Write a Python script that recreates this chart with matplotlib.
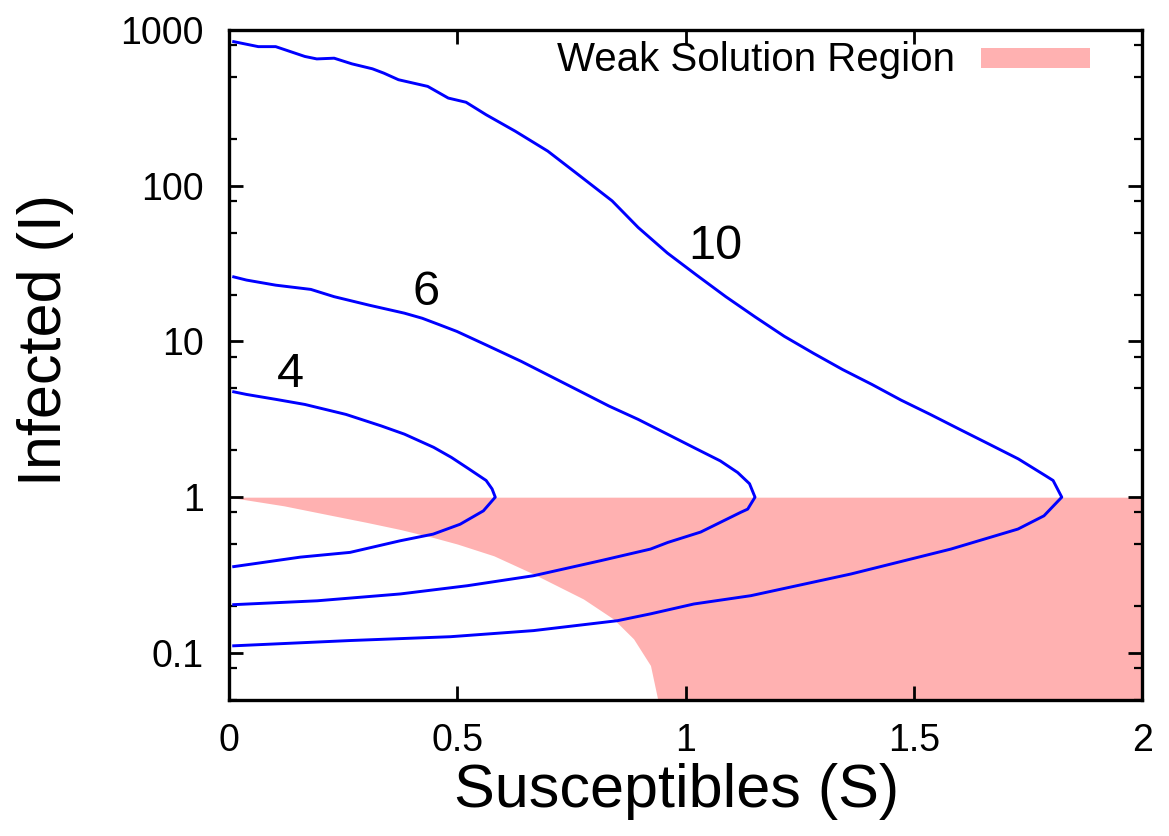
import numpy as np
import matplotlib
matplotlib.use("Agg")
import matplotlib.pyplot as plt
from matplotlib.ticker import FixedLocator, NullFormatter
from matplotlib.patches import Rectangle

plt.rcParams['font.family'] = ['Liberation Sans', 'DejaVu Sans']

# ---- data ----
# curve labelled 4
s4_upper = [0.01, 0.038, 0.102, 0.166, 0.256, 0.333, 0.384, 0.448, 0.487, 0.525, 0.563, 0.576, 0.583]
i4_upper = [4.75, 4.57, 4.25, 3.94, 3.40, 2.87, 2.54, 2.09, 1.80, 1.52, 1.28, 1.13, 1.0]
s4_lower = [0.583, 0.557, 0.506, 0.447, 0.375, 0.265, 0.156, 0.01]
i4_lower = [1.0, 0.817, 0.67, 0.579, 0.525, 0.442, 0.412, 0.358]

# curve labelled 6
s6_upper = [0.01, 0.038, 0.102, 0.179, 0.230, 0.307, 0.384, 0.423, 0.461, 0.499, 0.563, 0.640,
            0.704, 0.768, 0.832, 0.896, 0.960, 1.024, 1.076, 1.114, 1.140, 1.152]
i6_upper = [26.0, 24.8, 23.0, 21.6, 19.4, 17.1, 15.2, 14.1, 12.8, 11.6, 9.5, 7.45,
            5.98, 4.80, 3.85, 3.16, 2.54, 2.04, 1.71, 1.44, 1.22, 1.0]
s6_lower = [1.152, 1.136, 1.121, 1.033, 0.961, 0.923, 0.814, 0.667, 0.522, 0.375, 0.193, 0.01]
i6_lower = [1.0, 0.838, 0.80, 0.597, 0.512, 0.464, 0.391, 0.313, 0.27, 0.239, 0.216, 0.204]

# curve labelled 10
s10_upper = [0.01, 0.064, 0.102, 0.166, 0.192, 0.230, 0.269, 0.314, 0.339, 0.371, 0.435, 0.480,
             0.519, 0.563, 0.627, 0.698, 0.768, 0.839, 0.896, 0.960, 1.024, 1.088, 1.152, 1.216,
             1.280, 1.344, 1.408, 1.472, 1.536, 1.600, 1.665, 1.729, 1.789, 1.805, 1.824]
i10_upper = [843, 783, 783, 677, 653, 660, 607, 564, 529, 480, 435, 366,
             344, 286, 224, 167, 116, 80, 54, 37, 26.7, 19.4, 14.4, 10.8,
             8.4, 6.6, 5.3, 4.2, 3.4, 2.73, 2.19, 1.76, 1.37, 1.28, 1.0]
s10_lower = [1.824, 1.785, 1.728, 1.581, 1.362, 1.143, 1.018, 0.923, 0.851, 0.667, 0.485, 0.265, 0.01]
i10_lower = [1.0, 0.759, 0.624, 0.464, 0.321, 0.233, 0.206, 0.178, 0.161, 0.139, 0.127, 0.120, 0.111]

# weak-solution region boundary (lower edge), top edge is I = 1
region_s = [0.0, 0.12, 0.228, 0.30, 0.375, 0.447, 0.50, 0.58, 0.667, 0.776, 0.842, 0.886, 0.923, 0.939, 2.0]
region_i = [1.0, 0.88, 0.76, 0.69, 0.62, 0.551, 0.50, 0.42, 0.321, 0.222, 0.165, 0.123, 0.083, 0.05, 0.05]

curve_labels = ["4", "6", "10"]
label_pos_s = [0.134, 0.432, 1.066]
label_pos_i = [6.1, 20.6, 41.0]

xticks = [0, 0.5, 1, 1.5, 2]
xticklabels = ["0", "0.5", "1", "1.5", "2"]
yticks = [0.1, 1, 10, 100, 1000]
yticklabels = ["0.1", "1", "10", "100", "1000"]
yminor = [m * 10.0 ** e for e in range(-2, 3) for m in (2, 5, 8)]

legend_text = "Weak Solution Region"

# ---- figure ----
fig = plt.figure(figsize=(11.69, 8.36), dpi=100)
ax = fig.add_axes([0.196, 0.163, 0.781, 0.801])

pink = "#ffb1b1"
blue = "#0000ff"

ax.fill_between(region_s, region_i, [1.0] * len(region_s), color=pink, lw=0, zorder=1)

for su, iu, sl, il in [(s4_upper, i4_upper, s4_lower, i4_lower),
                       (s6_upper, i6_upper, s6_lower, i6_lower),
                       (s10_upper, i10_upper, s10_lower, i10_lower)]:
    ax.plot(list(su) + list(sl), list(iu) + list(il), color=blue, lw=2.1, zorder=3,
            solid_joinstyle="round")

for t, s, i in zip(curve_labels, label_pos_s, label_pos_i):
    ax.text(s, i, t, fontsize=35, ha="center", va="center", color="black", zorder=4)

ax.set_yscale("log")
ax.set_xlim(0, 2)
ax.set_ylim(0.05, 1000)

ax.set_xticks(xticks)
ax.set_xticklabels(xticklabels)
ax.yaxis.set_major_locator(FixedLocator(yticks))
ax.set_yticklabels(yticklabels)
ax.yaxis.set_minor_locator(FixedLocator(yminor))
ax.yaxis.set_minor_formatter(NullFormatter())

ax.tick_params(axis="both", which="major", direction="in", length=10, width=2,
               top=True, right=True, labelsize=27, colors="black")
ax.tick_params(axis="x", which="major", pad=17)
ax.tick_params(axis="y", which="major", pad=18)
ax.tick_params(axis="y", which="minor", direction="in", length=6, width=1.6, right=True)

for sp in ax.spines.values():
    sp.set_linewidth(2.4)
    sp.set_color("black")
    sp.set_zorder(5)

ax.set_xlabel("Susceptibles (S)", fontsize=44)
ax.xaxis.set_label_coords(0.49, -0.137)
ax.xaxis.label.set_va("center")
ax.set_ylabel("Infected (I)", fontsize=44)
ax.yaxis.set_label_coords(-0.2015, 0.537)
ax.yaxis.label.set_va("center")

# legend: text + pink box in axes coords
ax.text(0.795, 0.955, legend_text, transform=ax.transAxes, fontsize=29,
        ha="right", va="center", zorder=6)
ax.add_patch(Rectangle((0.823, 0.943), 0.12, 0.030, transform=ax.transAxes,
                       facecolor=pink, edgecolor="none", zorder=6))

fig.savefig("out.png", dpi=100)
